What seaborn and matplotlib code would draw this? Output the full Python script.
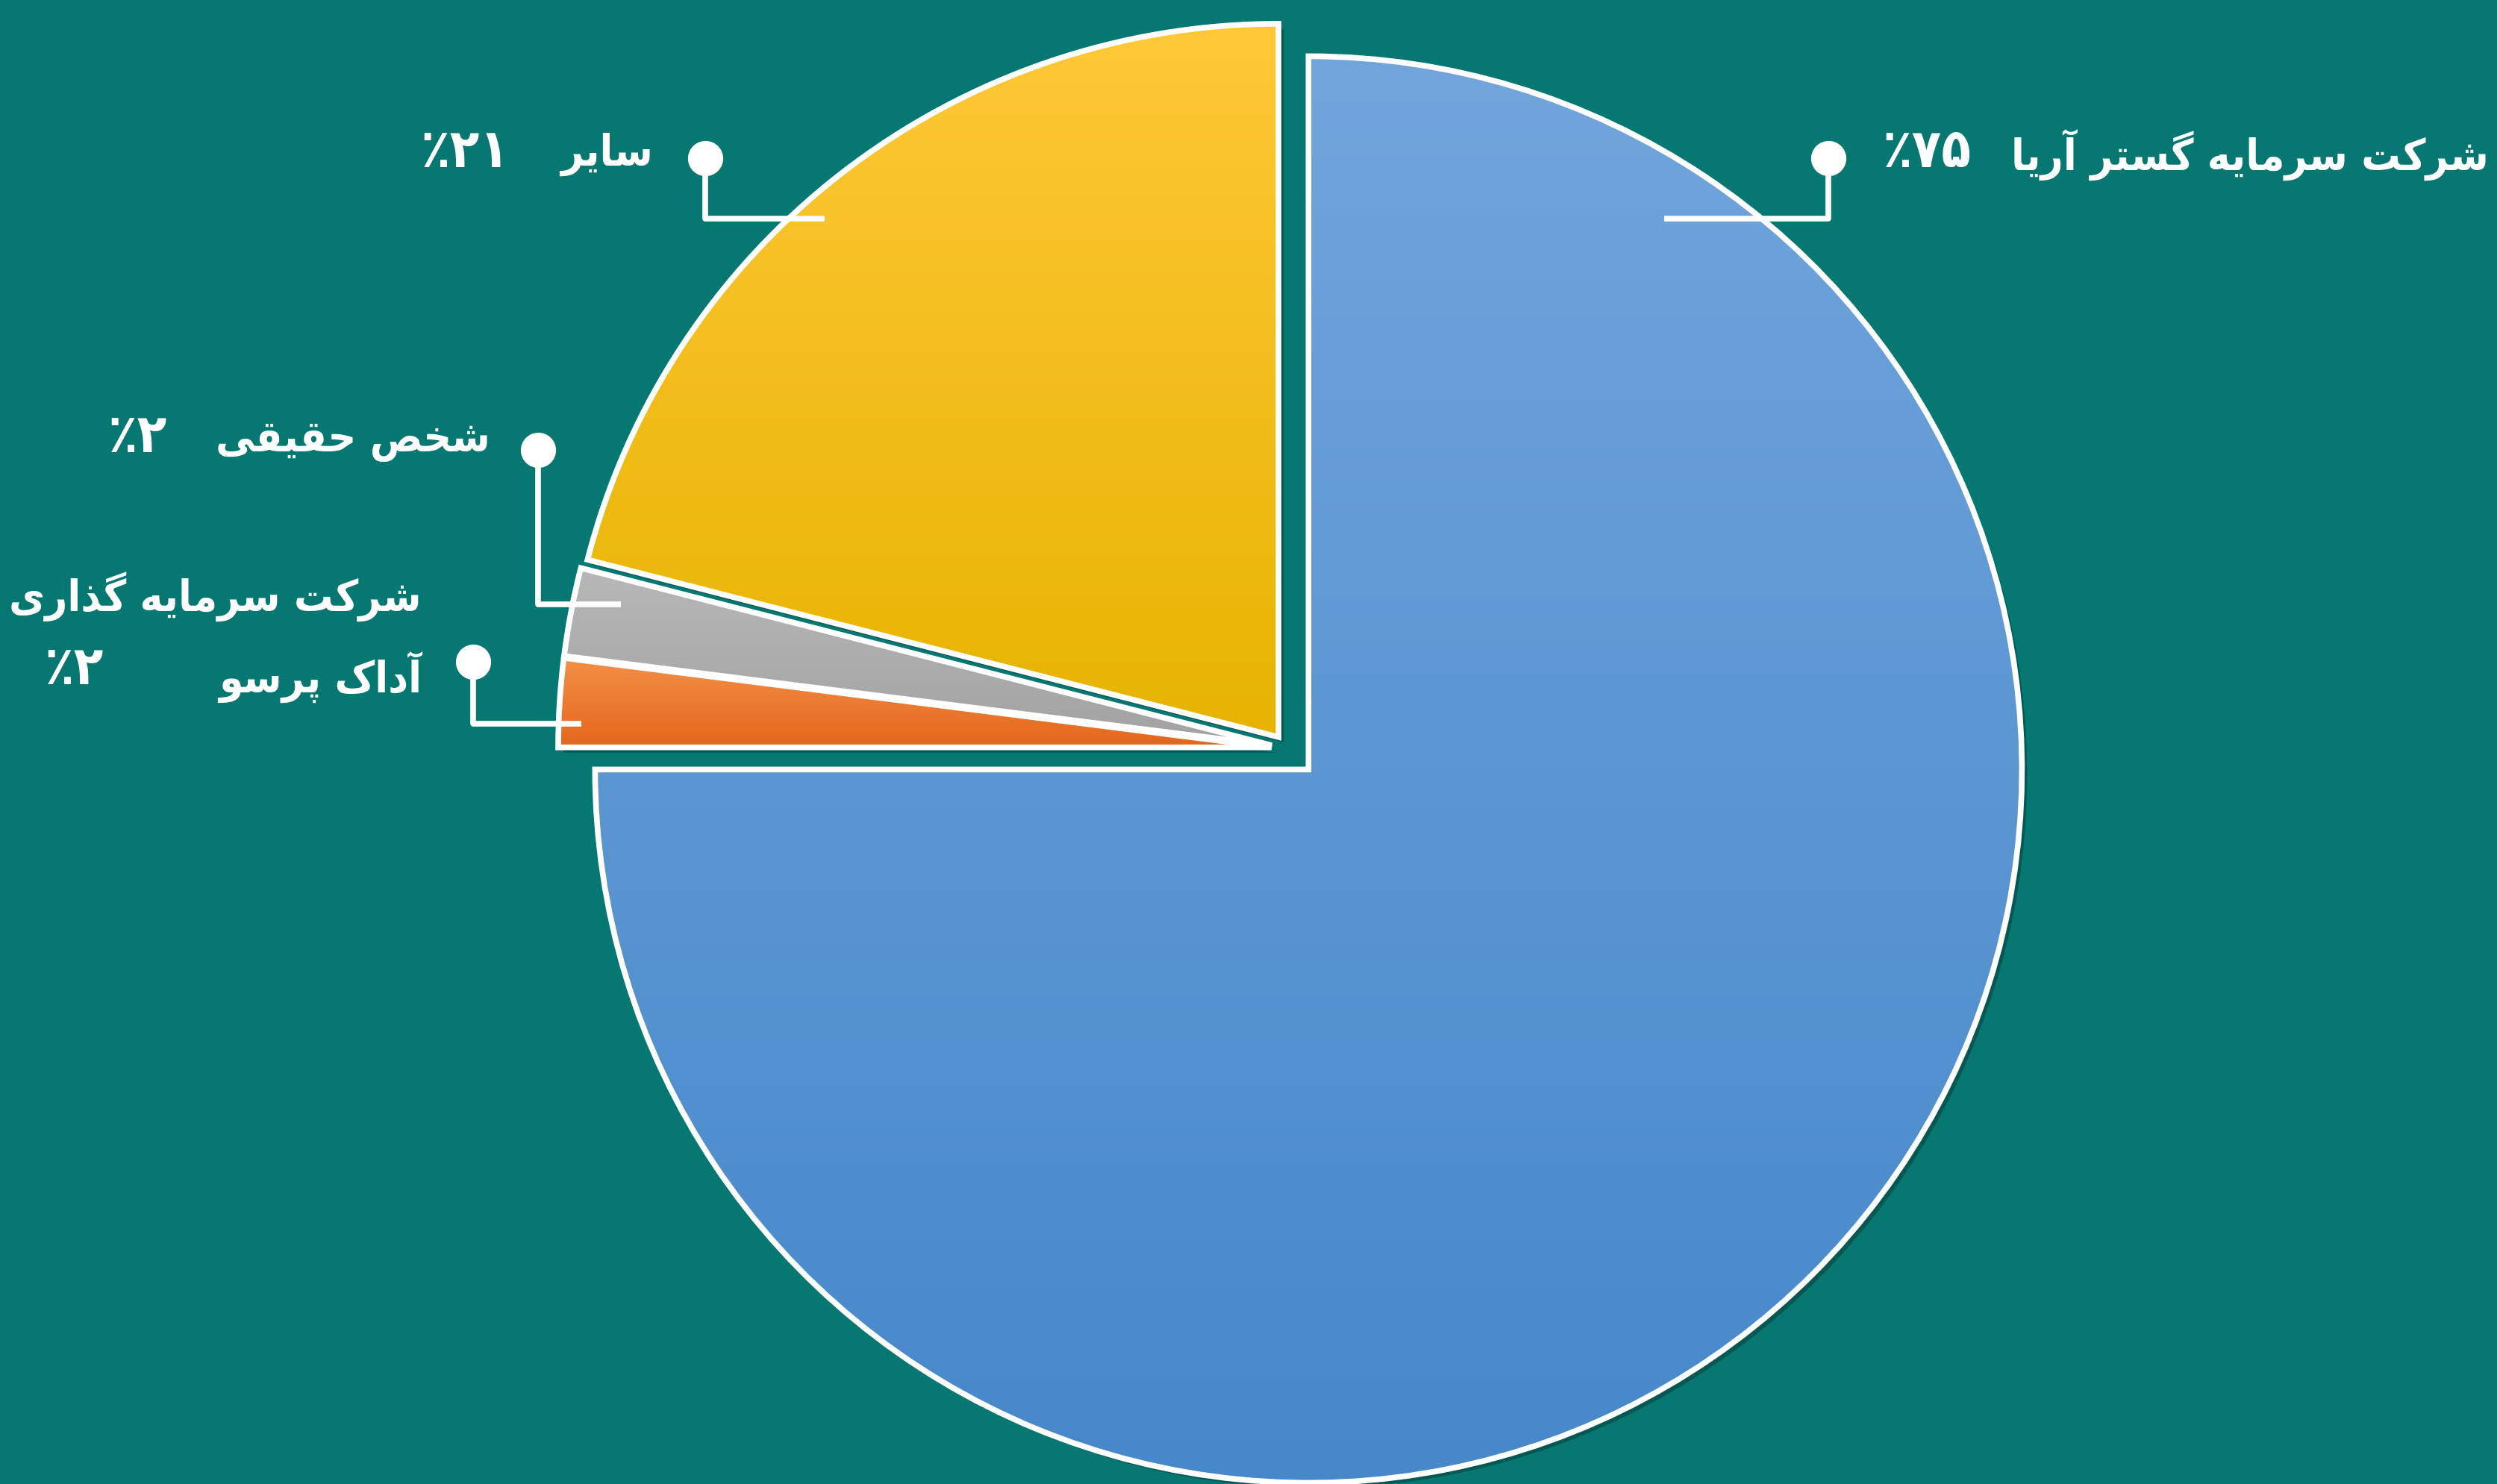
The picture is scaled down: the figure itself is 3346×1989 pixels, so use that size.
import unicodedata
import numpy as np
import seaborn as sns
import matplotlib.pyplot as plt
from matplotlib.patches import Wedge
from matplotlib.colors import LinearSegmentedColormap

# data (order = counter-clockwise from 12 o'clock)
labels = ['سایر', 'شخص حقیقی', 'شرکت سرمایه گذاری\nآداک پرسو', 'شرکت سرمایه گستر آریا']
values = [21, 2, 2, 75]
explode = [0.02, 0.022, 0.022, 0.042]
top_colors = ['#ffc838', '#b8b8b8', '#f39048', '#72a5dc']
bottom_colors = ['#e6b400', '#a2a2a2', '#e4661a', '#4688ca']

BG = '#077772'
W, H = 3346, 1990

RIGHT_ONLY = set('اآأإدذرزژوؤة')


def is_ar(c):
    return '\u0600' <= c <= '\u06ff' and not ('\u06f0' <= c <= '\u06f9')


def shape_fa(text):
    # crude arabic/persian shaping + reverse to visual order
    out = []
    for i, c in enumerate(text):
        if not is_ar(c):
            out.append(c)
            continue
        p = text[i - 1] if i > 0 else ''
        n = text[i + 1] if i + 1 < len(text) else ''
        jp = bool(p) and is_ar(p) and p not in RIGHT_ONLY
        jn = bool(n) and is_ar(n) and c not in RIGHT_ONLY
        form = 'MEDIAL' if jp and jn else 'FINAL' if jp else 'INITIAL' if jn else 'ISOLATED'
        try:
            out.append(unicodedata.lookup(f'{unicodedata.name(c)} {form} FORM'))
        except KeyError:
            out.append(c)
    return ''.join(reversed(out))


def fa_pct(v):
    return '٪' + ''.join(chr(0x06F0 + int(d)) for d in str(v))


sns.set_theme(style='white')
plt.rcParams['font.family'] = ['DejaVu Sans']

fig = plt.figure(figsize=(W / 100, H / 100), dpi=100, facecolor=BG)
ax = fig.add_axes([0, 0, 1, 1])
ax.set_facecolor(BG)

cx, cy, R = 1725, H - 1004, 956
wedges, _ = ax.pie(values, startangle=90, counterclock=True, radius=R, center=(cx, cy),
                   explode=[e * R for e in explode], colors=bottom_colors,
                   wedgeprops=dict(edgecolor='none', linewidth=0))

for w, ct, cb in zip(wedges, top_colors, bottom_colors):
    w.set_zorder(2)
    # shadow
    sh = Wedge((w.center[0] + 7, w.center[1] - 7), w.r, w.theta1, w.theta2,
               facecolor='#033f3c', alpha=0.55, edgecolor='none', zorder=1)
    ax.add_patch(sh)
    # vertical gradient clipped to the wedge
    bb = w.get_path().get_extents()
    cmap = LinearSegmentedColormap.from_list('g', [cb, ct])
    grad = np.linspace(0, 1, 256).reshape(-1, 1)
    im = ax.imshow(grad, cmap=cmap, origin='lower', aspect='auto',
                   extent=[bb.x0, bb.x1, bb.y0, bb.y1], zorder=3)
    im.set_clip_path(w)
    # white outline
    ax.add_patch(Wedge(w.center, w.r, w.theta1, w.theta2, facecolor='none',
                       edgecolor='white', linewidth=5.5, zorder=4, joinstyle='miter'))

ax.set_xlim(0, W)
ax.set_ylim(0, H)
ax.set_aspect('equal')
ax.axis('off')

# leader lines: (dot x, dot y, corner y, end x) in image pixels
leaders = [(945, 213, 294, 1105),
           (721, 604, 811, 832),
           (634, 888, 971, 779),
           (2450, 213, 294, 2230)]
# label right edge x, label y, pct right edge x, pct y
text_pos = [(875, 207, 683, 205),
            (657, 591, 224, 587),
            (565, 800, 139, 898),
            (3335, 207, 2642, 205)]

lc = dict(color='white', lw=5.5, solid_capstyle='butt', zorder=6)
tkw = dict(ha='right', va='center', fontweight='bold',
           fontstretch='condensed', color='white', zorder=8)
for (dx, dy, ky, ex), (lx, ly, px, py), lab, v in zip(leaders, text_pos, labels, values):
    ax.plot([dx, dx, ex], [H - dy, H - ky, H - ky], **lc)
    ax.plot(dx, H - dy, 'o', ms=33, color='white', zorder=7)
    for k, line in enumerate(lab.split('\n')):
        ax.text(lx, H - ly - k * 107, shape_fa(line), fontsize=42, **tkw)
    ax.text(px, H - py, fa_pct(v), fontsize=52, **tkw)

fig.savefig('out.png', dpi=100, facecolor=BG)
